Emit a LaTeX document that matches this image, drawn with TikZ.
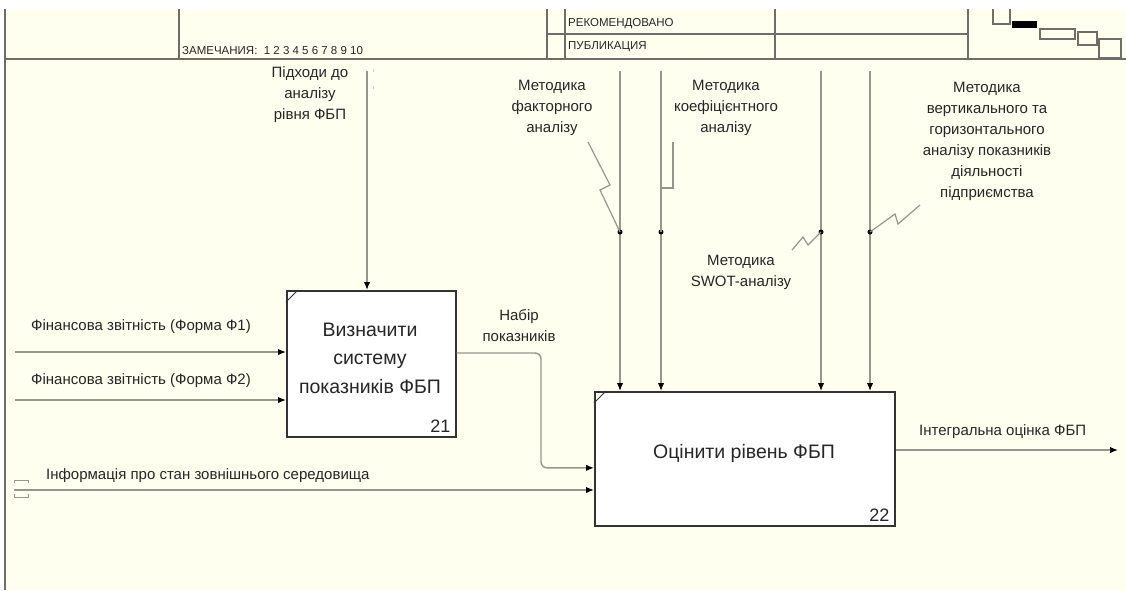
\documentclass[tikz,border=0pt]{standalone}
\usepackage{fontspec}
\setmainfont{Liberation Sans}
\usetikzlibrary{arrows.meta}
\definecolor{cream}{HTML}{FFFFF0}
\definecolor{lgrey}{HTML}{979789}
\definecolor{frame}{HTML}{6E6E68}
\begin{document}
\begin{tikzpicture}[x=1pt,y=-1pt,
  arr/.style={draw=lgrey,line width=1.4pt,-{Latex[length=8pt,width=6.5pt,color=black]}},
  squig/.style={draw=lgrey,line width=1.2pt},
  procbox/.style={draw=black!80,fill=white,line width=1.7pt,inner sep=0pt,anchor=north west},
  lbl/.style={font=\fontsize{15}{21}\selectfont,align=center,inner sep=0pt,text=black!85},
  ilbl/.style={font=\fontsize{15}{17}\selectfont,inner sep=0pt,text=black!85},
  boxtxt/.style={font=\fontsize{19.5}{28.5}\selectfont,align=center,inner sep=0pt,text=black!85},
  numtxt/.style={font=\fontsize{18}{20}\selectfont,inner sep=0pt,text=black!85},
  hdrtxt/.style={font=\fontsize{11.5}{13}\selectfont,inner sep=0pt,text=black!85},
  hdr/.style={draw=frame,line width=1.3pt},
  jdot/.style={circle,fill=black,inner sep=0pt,minimum size=5pt}
]
\useasboundingbox (0,0) rectangle (1126,590);
\fill[white] (0,0) rectangle (1126,590);
\fill[cream] (5,9) rectangle (1126,590);

% header
\draw[frame,line width=2.5pt] (5,9) -- (5,590);
\draw[frame,line width=2pt] (5,59) -- (1126,59);
\draw[hdr] (179,9) -- (179,59);
\draw[hdr] (547,9) -- (547,59);
\draw[hdr] (565,9) -- (565,59);
\draw[hdr] (547,34) -- (968,34);
\draw[hdr] (775,9) -- (775,59);
\draw[hdr] (968,9) -- (968,59);
\node[hdrtxt,anchor=base west] (zam) at (182,54) {ЗАМЕЧАНИЯ:\ \ 1 2 3 4 5 6 7 8 9 10};
\node[hdrtxt,anchor=west] (rek) at (568,24) {РЕКОМЕНДОВАНО};
\node[hdrtxt,anchor=west] (pub) at (568,47) {ПУБЛИКАЦИЯ};
% context icon
\draw[hdr,line width=1.1pt] (993,9) -- (993,24) -- (1010,24) -- (1010,9);
\fill[black] (1012,21) rectangle (1037,28);
\draw[hdr,line width=1.1pt] (1040,29) rectangle (1075,39);
\draw[hdr,line width=1.1pt] (1078,32) rectangle (1097,45);
\draw[hdr,line width=1.1pt] (1099,39) rectangle (1121,58);

% boxes
\node[procbox,minimum width=169pt,minimum height=146pt] (b21) at (286,290) {};
\node[procbox,minimum width=300pt,minimum height=134pt] (b22) at (594,391) {};
\draw[black!80,line width=1pt] ([yshift=-12pt]b21.north west) -- ([xshift=12pt]b21.north west);
\draw[black!80,line width=1pt] ([yshift=-12pt]b22.north west) -- ([xshift=12pt]b22.north west);
\node[boxtxt] (t21) at (370,358) {Визначити\\систему\\показників ФБП};
\node[boxtxt] (t22) at (744,453) {Оцінити рівень ФБП};
\node[numtxt,anchor=south east] (n21) at ([xshift=-6pt,yshift=5pt]b21.south east) {21};
\node[numtxt,anchor=south east] (n22) at ([xshift=-6pt,yshift=5pt]b22.south east) {22};

% inputs to b21
\coordinate (i1) at (15,352);
\coordinate (i2) at (15,400);
\draw[arr] (i1) -- (i1 -| b21.west);
\draw[arr] (i2) -- (i2 -| b21.west);
\node[ilbl,anchor=west] (l1) at (31,327) {Фінансова звітність (Форма Ф1)};
\node[ilbl,anchor=west] (l2) at (31,381) {Фінансова звітність (Форма Ф2)};

% control to b21
\coordinate (c0) at (367,71);
\draw[arr] (c0) -- (c0 |- b21.north);
\draw[lgrey!50,line width=0.8pt] (373,69) -- (373,72) (373,86) -- (373,89);
\node[lbl] (lc0) at (310,95) {Підходи до\\аналізу\\рівня ФБП};

% output b21 -> b22
\coordinate (o0) at (541,353);
\draw[arr,rounded corners=6pt] (o0 -| b21.east) -- (o0) |- ([yshift=-9pt]b22.west);
\node[lbl] (lset) at (519,326) {Набір\\показників};

% external info input
\coordinate (i3) at (14,490);
\draw[arr] (i3) -- (i3 -| b22.west);
\draw[lgrey,line width=1pt] (14,483) -- (14,480) -- (28,480) -- (28,483);
\draw[lgrey,line width=1pt] (14,494) -- (14,497) -- (28,497) -- (28,494);
\node[ilbl,anchor=west] (l3) at (46,476) {Інформація про стан зовнішнього середовища};

% controls to b22
\coordinate (c1) at (620,71);
\coordinate (c2) at (661,71);
\coordinate (c3) at (821,71);
\coordinate (c4) at (870,71);
\draw[arr] (c1) -- (c1 |- b22.north);
\draw[arr] (c2) -- (c2 |- b22.north);
\draw[arr] (c3) -- (c3 |- b22.north);
\draw[arr] (c4) -- (c4 |- b22.north);
\node[jdot] (j1) at (620,232) {};
\node[jdot] (j2) at (661,232) {};
\node[jdot] (j3) at (821,232) {};
\node[jdot] (j4) at (870,232) {};
\draw[squig] (j1.center) -- (600,190) -- (610,185) -- (588,142);
\draw[squig] (j2.center) -- (661,188) -- (673,188) -- (673,142);
\draw[squig] (j3.center) -- (808,245) -- (803,237) -- (792,250);
\draw[squig] (j4.center) -- (895,214) -- (898,224) -- (920,205);
\node[lbl] (m1) at (552,108) {Методика\\факторного\\аналізу};
\node[lbl] (m2) at (726,108) {Методика\\коефіцієнтного\\аналізу};
\node[lbl] (m3) at (741,272) {Методика\\SWOT-аналізу};
\node[lbl] (m4) at (987,141) {Методика\\вертикального та\\горизонтального\\аналізу показників\\діяльності\\підприємства};

% output b22
\coordinate (o1) at (1118,450);
\draw[arr] (o1 -| b22.east) -- (o1);
\node[ilbl,anchor=west] (lo) at (919,432) {Інтегральна оцінка ФБП};
\end{tikzpicture}
\end{document}
